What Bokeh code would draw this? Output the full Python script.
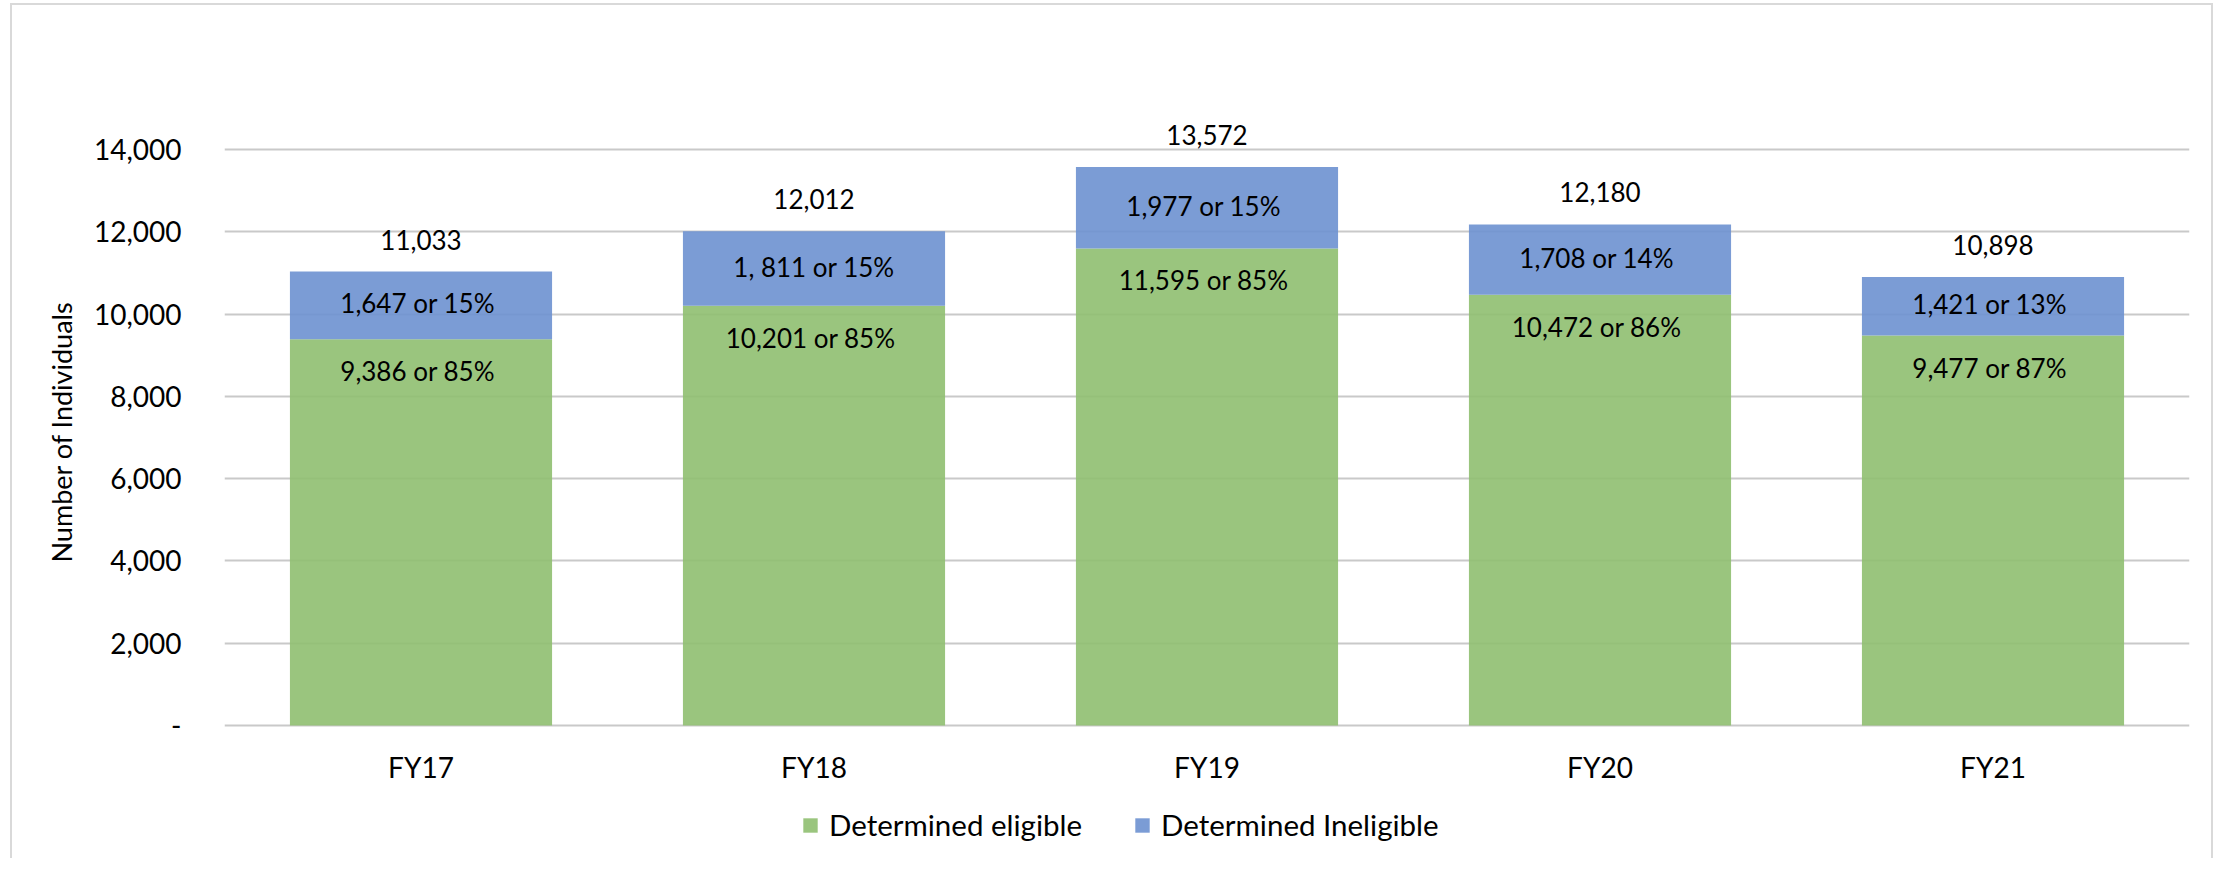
from bokeh.plotting import figure
from bokeh.models import ColumnDataSource, FixedTicker, LabelSet, Legend, LegendItem, Title
from bokeh.core.properties import value
from bokeh.embed import file_html
from bokeh.resources import INLINE

# ---- data ----
years = ["FY17", "FY18", "FY19", "FY20", "FY21"]
eligible = [9386, 10201, 11595, 10472, 9477]
ineligible = [1647, 1811, 1977, 1708, 1421]
totals = [11033, 12012, 13572, 12180, 10898]
eligible_labels = ["9,386  or 85%", "10,201  or 85%", "11,595  or 85%", "10,472  or 86%", "9,477  or 87%"]
ineligible_labels = ["1,647  or 15%", "1, 811 or 15%", "1,977  or 15%", "1,708  or 14%", "1,421  or 13%"]
total_labels = ["11,033", "12,012", "13,572", "12,180", "10,898"]
y_ticks = [0, 2000, 4000, 6000, 8000, 10000, 12000, 14000]
y_tick_labels = ["-", "2,000", "4,000", "6,000", "8,000", "10,000", "12,000", "14,000"]
series_names = ["Determined eligible", "Determined Ineligible"]
y_title = "Number of Individuals"

GREEN = "#8FBF70"
BLUE = "#6D91D0"
GRID = "#C9C9C9"
FONT = "Lato"

mid_inel = [e + i / 2 for e, i in zip(eligible, ineligible)]
zeros = [0] * len(years)

src = ColumnDataSource(dict(
    year=years, eligible=eligible, ineligible=ineligible, total=totals,
    elab=eligible_labels, ilab=ineligible_labels, tlab=total_labels, imid=mid_inel,
    zero=zeros,
))

W, H = 2203, 855
p = figure(x_range=years, y_range=(-3160, 16698), width=W, height=H,
           output_backend="svg", toolbar_location=None,
           min_border_left=212, min_border_right=26, min_border_top=33, min_border_bottom=5)
p.outline_line_color = None
p.background_fill_color = "white"
p.border_fill_color = "white"

rs = p.vbar_stack(["eligible", "ineligible"], x="year", width=0.667, source=src,
                  fill_color=[GREEN, BLUE], fill_alpha=0.9, line_color=None)

# y axis
p.yaxis.ticker = FixedTicker(ticks=y_ticks)
p.yaxis.major_label_overrides = {t: l for t, l in zip(y_ticks, y_tick_labels)}
p.yaxis.axis_line_color = None
p.yaxis.major_tick_line_color = None
p.yaxis.minor_tick_line_color = None
p.yaxis.major_label_standoff = 37
p.yaxis.major_label_text_font = FONT
p.yaxis.major_label_text_font_size = "28px"
p.yaxis.major_label_text_color = "black"

p.add_layout(Title(text=y_title, align="left", offset=293, standoff=25,
                   text_font=FONT, text_font_size="27px", text_font_style="normal",
                   text_color="black"), "left")

# x axis: category labels drawn at the zero line
p.xaxis.visible = False
p.xgrid.visible = False
p.ygrid.ticker = FixedTicker(ticks=y_ticks)
p.ygrid.grid_line_color = GRID
p.ygrid.grid_line_width = 2

common = dict(source=src, x="year", text_font=value(FONT), text_color="black",
              text_align="center", text_baseline="middle")
p.add_layout(LabelSet(y="zero", text="year", y_offset=-42, text_font_size="28px", **common))

# data labels
p.add_layout(LabelSet(y="total", text="tlab", y_offset=32, text_font_size="26px", **common))
p.add_layout(LabelSet(y="imid", text="ilab", y_offset=2, text_font_size="26px", **common))
p.add_layout(LabelSet(y="eligible", text="elab", y_offset=-32, text_font_size="26px", **common))

# legend
legend = Legend(items=[LegendItem(label=series_names[0], renderers=[rs[0]]),
                       LegendItem(label=series_names[1], renderers=[rs[1]])],
                location=(577, 13), orientation="horizontal",
                glyph_width=18, glyph_height=18, label_standoff=10, spacing=51,
                padding=0, margin=0, border_line_color=None, background_fill_alpha=0,
                label_text_font=FONT, label_text_font_size="29.5px", label_text_color="black")
p.add_layout(legend, "center")

p.styles = {"border-top": "2px solid #D9D9D9", "border-left": "2px solid #D9D9D9",
            "border-right": "2px solid #D9D9D9", "margin-left": "10px", "margin-top": "3px"}

open("out.html", "w").write(file_html(p, INLINE))
